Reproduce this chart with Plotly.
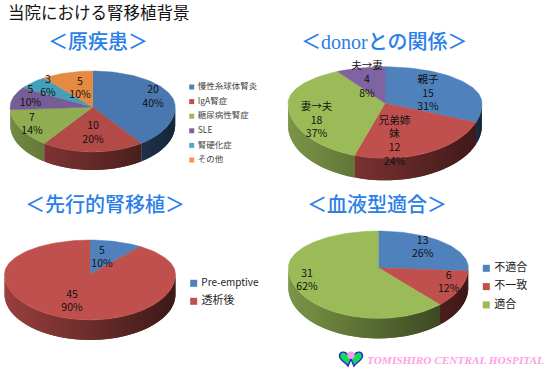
import math
import plotly.graph_objects as go

# ---- data ----
title_main = "当院における腎移植背景"
cause_labels = ["慢性糸球体腎炎", "IgA腎症", "糖尿病性腎症", "SLE", "腎硬化症", "その他"]
cause_values = [20, 10, 7, 5, 3, 5]
cause_pct = [40, 20, 14, 10, 6, 10]
donor_labels = ["親子", "兄弟姉<br>妹", "妻→夫", "夫→妻"]
donor_values = [15, 12, 18, 4]
donor_pct = [31, 24, 37, 8]
pre_labels = ["Pre-emptive", "透析後"]
pre_values = [5, 45]
pre_pct = [10, 90]
blood_labels = ["不適合", "不一致", "適合"]
blood_values = [13, 6, 31]
blood_pct = [26, 12, 62]

BLUE, RED, GREEN, PURPLE, TEAL, ORANGE = "#4F81BD", "#C0504D", "#9BBB59", "#8064A2", "#4BACC6", "#F79646"
PALETTE = [BLUE, RED, GREEN, PURPLE, TEAL, ORANGE]
JP = "Noto Sans CJK JP"
TITLE_FONT = "Liberation Serif, Noto Sans CJK JP"
TITLE_BLUE = "#2A80E8"
LABEL_SIZE = 10.5

charts = [
    dict(name="＜原疾患＞", tx=98, ty=42, labels=cause_labels, values=cause_values, pct=cause_pct,
         cx=92.7, cy=107, rx=82.5, up=36, down=45, depth=18, show_names=False, tone=0.93,
         label_pos=[(153, 97.5), (93, 133.5), (32, 125), (30.5, 97), (48, 87), (80, 89)],
         legend=dict(x=191.7, y0=87, dy=14.6, sizes=[8.5] * 6, marker=5, color="#444")),
    dict(name="＜donorとの関係＞", tx=384, ty=42, labels=donor_labels, values=donor_values, pct=donor_pct,
         cx=385, cy=103.3, rx=97, up=36.5, down=55, depth=22, show_names=True, tone=1.0,
         label_pos=[(428, 94), (394.5, 141.5), (316.5, 121), (367, 80.5)], legend=None),
    dict(name="＜先行的腎移植＞", tx=105, ty=205, labels=pre_labels, values=pre_values, pct=pre_pct,
         cx=90, cy=274.3, rx=85.5, up=34.3, down=45.6, depth=20, show_names=False, tone=1.0,
         label_pos=[(102, 258), (72, 302)],
         legend=dict(x=193.7, y0=283.3, dy=18, sizes=[10, 11], marker=7, color="#222")),
    dict(name="＜血液型適合＞", tx=377, ty=205, labels=blood_labels, values=blood_values, pct=blood_pct,
         cx=378.3, cy=267.7, rx=90, up=36.7, down=50.7, depth=20, show_names=False, tone=1.0,
         label_pos=[(422.7, 248), (448.7, 283), (307, 281)],
         legend=dict(x=486.3, y0=268.3, dy=18.3, sizes=[11, 11, 11], marker=7, color="#222")),
]


def hex_scale(color, f):
    r, g, b = (int(color[i:i + 2], 16) for i in (1, 3, 5))
    return f"rgb({int(r * f)},{int(g * f)},{int(b * f)})"


def edge(c, deg):
    """Point on the pie rim; deg clockwise from 12 o'clock."""
    a = math.radians(deg)
    s, co = math.sin(a), -math.cos(a)
    return (c["cx"] + c["rx"] * s, c["cy"] + (c["up"] if co < 0 else c["down"]) * co)


fig = go.Figure()


def poly(xs, ys, color, outline=True):
    fig.add_trace(go.Scatter(x=xs, y=ys, mode="lines" if outline else "none", fill="toself", fillcolor=color,
                             line=dict(color=color, width=0.5), hoverinfo="skip", showlegend=False))


for c in charts:
    total = sum(c["values"])
    spans, a = [], 0.0
    for v in c["values"]:
        spans.append((a, a + 360 * v / total))
        a += 360 * v / total
    # side wall, front half only, shaded left to right; each strip runs under the next
    for i in reversed(range(len(spans))):
        a0, a1 = spans[i]
        lo, hi = max(a0, 90), min(a1, 270)
        if hi <= lo:
            continue
        n = max(1, int((hi - lo) / 2))
        for k in reversed(range(n)):
            b0 = lo + (hi - lo) * k / n          # right end of strip
            b1 = lo + (hi - lo) * (k + 1) / n    # left end of strip
            p0 = edge(c, b0 if k == 0 else lo + (hi - lo) * (k - 1) / n)
            p1 = edge(c, b1)
            mid = edge(c, (b0 + b1) / 2)
            t = (mid[0] - (c["cx"] - c["rx"])) / (2 * c["rx"])
            shade = hex_scale(PALETTE[i], (0.80 - 0.48 * t) * c["tone"])
            xs = [p0[0], p1[0], p1[0], p0[0]]
            ys = [p0[1], p1[1], p1[1] + c["depth"], p0[1] + c["depth"]]
            poly(xs, ys, shade, outline=False)
    # top surface
    for i, (a0, a1) in enumerate(spans):
        n = max(2, int((a1 - a0) / 2))
        pts = [edge(c, a0 + (a1 - a0) * k / n) for k in range(n + 1)]
        poly([c["cx"]] + [p[0] for p in pts] + [c["cx"]],
             [c["cy"]] + [p[1] for p in pts] + [c["cy"]], hex_scale(PALETTE[i], c["tone"]))
    # value labels
    texts = []
    for name, v, p in zip(c["labels"], c["values"], c["pct"]):
        texts.append((name + "<br>" if c["show_names"] else "") + f"{v}<br>{p}%")
    fig.add_trace(go.Scatter(x=[q[0] for q in c["label_pos"]], y=[q[1] for q in c["label_pos"]],
                             mode="text", text=texts, textposition="middle center",
                             textfont=dict(family=JP, size=LABEL_SIZE, color="#111"),
                             hoverinfo="skip", showlegend=False))
    # section title
    fig.add_annotation(x=c["tx"], y=c["ty"], text=c["name"], showarrow=False, xanchor="center", yanchor="middle",
                       font=dict(family=TITLE_FONT, size=20, color=TITLE_BLUE, weight=500))
    # legend
    if c["legend"]:
        L = c["legend"]
        ys = [L["y0"] + L["dy"] * i for i in range(len(c["labels"]))]
        fig.add_trace(go.Scatter(x=[L["x"]] * len(ys), y=ys, mode="markers+text", text=[" " + s for s in c["labels"]],
                                 textposition="middle right",
                                 marker=dict(symbol="square", size=L["marker"], color=PALETTE[:len(ys)]),
                                 textfont=dict(family=JP, size=L["sizes"], color=L["color"]),
                                 hoverinfo="skip", showlegend=False))

# main title
fig.add_annotation(x=6, y=12, text=title_main, showarrow=False, xanchor="left", yanchor="middle",
                   font=dict(family=JP, size=16.5, color="#111"))
# hospital mark
fig.add_annotation(x=365, y=360, text="TOMISHIRO CENTRAL HOSPITAL", showarrow=False, xanchor="left", yanchor="middle",
                   font=dict(family="Liberation Serif", size=11.3, color="#FF9FE6", style="italic", weight="bold"))
fig.add_shape(type="path", xref="x", yref="y", fillcolor="#12DC50", line=dict(color="#2A22D8", width=1.4),
              path="M 348 366 C 345 362 339.5 360 339.5 356 C 339.5 351.5 345 351 347 354 L 351 359 Z")
fig.add_shape(type="path", xref="x", yref="y", fillcolor="#12DC50", line=dict(color="#2A22D8", width=1.4),
              path="M 354 366 C 357 362 362.5 360 362.5 356 C 362.5 351.5 357 351 355 354 L 351 359 Z")
fig.add_shape(type="circle", xref="x", yref="y", x0=347.2, y0=351.5, x1=354.8, y1=359, fillcolor="#F2A0E8",
              line=dict(color="#F2A0E8", width=0))

fig.update_layout(width=550, height=370, margin=dict(l=0, r=0, t=0, b=0), paper_bgcolor="white",
                  plot_bgcolor="white", showlegend=False,
                  xaxis=dict(range=[0, 550], visible=False, fixedrange=True),
                  yaxis=dict(range=[370, 0], visible=False, fixedrange=True))
fig.write_html("out.html", config={"displayModeBar": False},
               post_script="document.body.style.margin='0';")
